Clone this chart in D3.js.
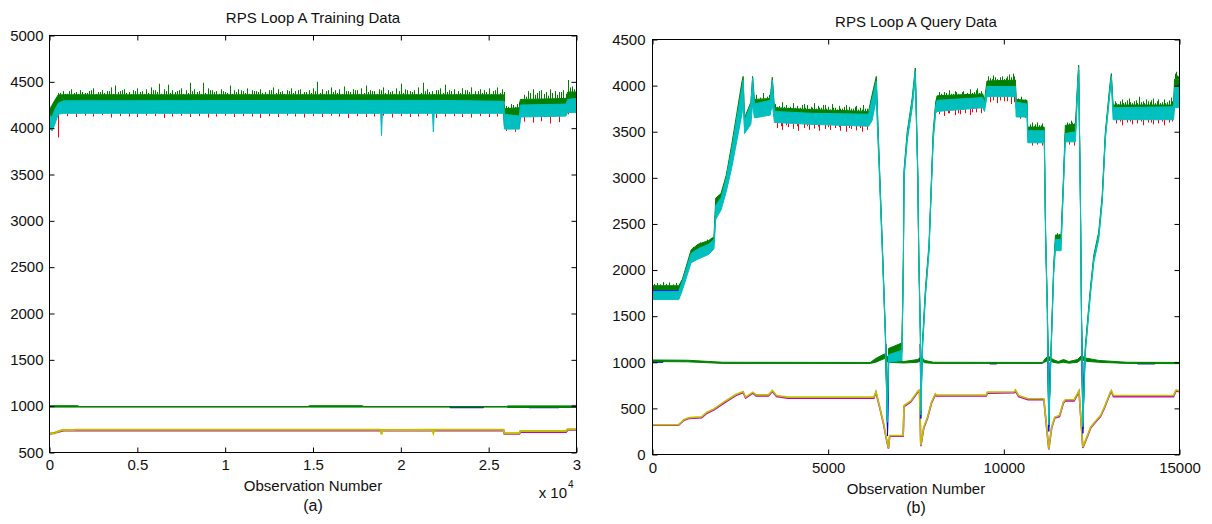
<!DOCTYPE html>
<html>
<head>
<meta charset="utf-8">
<script src="https://cdn.jsdelivr.net/npm/d3@7"></script>
<style>
  body { margin: 0; background: #fff; }
  text { font-family: "Liberation Sans", Arial, sans-serif; fill: #111; }
</style>
</head>
<body>
<svg id="chart" width="1212" height="524"></svg>
<script>
// ---------- (a) training data : rows are [observation, low, high] ----------
const trainXTicks = [0, 5000, 10000, 15000, 20000, 25000, 30000];
const trainYTicks = [500, 1000, 1500, 2000, 2500, 3000, 3500, 4000, 4500, 5000];

const trainBlue = [[0,4030,4130],[500,4175,4260],[25850,4175,4260],[25900,4010,4120],[26750,4010,4120],[26800,4145,4240],[29400,4150,4240],[29500,4185,4290],[30000,4185,4290]];
const trainGreen = [[0,4050,4200],[300,4120,4300],[500,4260,4360],[25850,4260,4360],[25900,4120,4210],[26750,4120,4220],[26800,4220,4310],[29400,4230,4320],[29500,4280,4390],[30000,4280,4390]];
const trainCyan = [[0,4000,4140],[150,3970,4120],[300,4040,4200],[500,4150,4270],[800,4160,4295],[18850,4160,4300],[18900,3920,4300],[18950,4160,4300],[21800,4160,4300],[21850,3960,4300],[21900,4160,4300],[25850,4160,4290],[25900,3990,4150],[26750,3990,4130],[26800,4120,4250],[29400,4130,4260],[29500,4170,4310],[30000,4170,4320]];

// green peaks, one every 250 observations (first set) and halfway between (second set)
const trainGreenTops = [4200,4290,4380,4400,4370,4420,4390,4410,4380,4400,4430,4390,4410,4400,4440,4460,4400,4420,4390,4410,
  4430,4400,4420,4440,4410,4480,4420,4470,4410,4400,4430,4410,4490,4420,4400,4490,4430,4410,4400,4420,
  4390,4460,4410,4420,4400,4430,4410,4400,4420,4390,4410,4440,4420,4400,4410,4430,4400,4420,4390,4410,
  4430,4500,4420,4400,4440,4410,4420,4450,4400,4420,4410,4430,4460,4410,4400,4420,4440,4410,4400,4430,
  4480,4420,4400,4410,4440,4490,4420,4400,4410,4430,4470,4410,4420,4400,4430,4410,4440,4400,4420,4410,
  4430,4400,4440,4420,4240,4260,4230,4280,4360,4400,4420,4380,4410,4390,4420,4400,4390,4410,4520,4450];
const trainGreenTops2 = [4230,4330,4380,4370,4400,4380,4370,4390,4380,4410,4370,4390,4380,4400,4370,4390,4410,4380,4370,4400,
  4390,4370,4380,4410,4390,4370,4400,4380,4390,4410,4370,4380,4400,4390,4370,4380,4410,4390,4370,4400,
  4380,4370,4390,4410,4380,4370,4400,4390,4380,4370,4410,4380,4390,4370,4400,4380,4410,4370,4390,4380,
  4400,4380,4370,4410,4390,4380,4370,4400,4390,4410,4370,4380,4390,4400,4370,4410,4380,4390,4370,4400,
  4380,4410,4390,4370,4380,4400,4390,4370,4410,4380,4390,4400,4370,4380,4410,4390,4370,4400,4380,4390,
  4370,4410,4380,4390,4230,4250,4260,4310,4340,4380,4360,4400,4370,4350,4380,4360,4390,4370,4440,4420];
// red lows, one every 500 observations
const trainRedBottoms = [3990,3900,4130,4120,4135,4125,4140,4115,4130,4125,4120,4135,4130,4110,4125,4135,4120,4130,4115,4125,
  4135,4120,4130,4125,4110,4130,4120,4135,4125,4115,4130,4120,4135,4125,4110,4130,4120,4125,4135,4115,
  4130,4120,4125,4135,4110,4125,4130,4120,4115,4130,4120,4125,3970,3960,4070,4060,4075,4050,4065,4150];

const trainMagenta = [[0,698],[800,738],[25850,738],[25900,702],[26750,702],[26800,722],[29400,722],[29500,745],[30000,745]];
const trainYellow = [[0,700],[150,712],[300,705],[500,730],[800,745],[1200,740],[1500,746],[18850,746],[18900,695],[18950,742],[21800,746],[21850,712],[21900,745],[25850,746],[25900,708],[26750,708],[26800,732],[29400,732],[29500,752],[30000,752]];
const trainBlueLow = [[22800,983,993],[24700,983,993],[24750,null,null],[27300,983,993],[29000,983,993]];
const trainGreenLow = [[0,990,1005],[1600,990,1005],[1700,990,996],[14700,990,996],[14800,990,1005],[17800,990,1005],[17900,990,996],[26000,990,996],[26100,986,1003],[30000,986,1003]];
const trainBlackLow = [[29750,996,1008],[30000,996,1008]];

// ---------- (b) query data ----------
const queryXTicks = [0, 5000, 10000, 15000];
const queryYTicks = [0, 500, 1000, 1500, 2000, 2500, 3000, 3500, 4000, 4500];

const queryBlue = [[0,1700,1795],[750,1700,1795],[760,null,null],[6640,1100,1200],[6690,200,260],[6720,900,1000],[6730,null,null],[7620,1100,1200],[7640,390,450],[7660,900,1000],[7670,null,null],[11240,1400,1500],[11280,250,300],[11320,900,1000],[11330,null,null],[12210,1400,1500],[12250,230,280],[12290,900,1000]];
const queryGreen = [[0,1790,1830],[750,1790,1830],[850,1850,1900],[1000,2030,2090],[1100,2150,2220],[1300,2200,2280],[1600,2250,2320],[1750,2300,2360],[1800,2650,2780],[1950,2720,2830],[2100,2920,3030],[2250,3200,3350],[2400,3520,3700],[2550,3850,4050],[2580,3950,4100],[2620,3550,3650],[2800,3700,3820],[2850,3950,4100],[2900,3780,3850],[3350,3800,3860],[3410,3950,4090],[3470,3700,3760],[4500,3680,3740],[6150,3660,3720],[6250,3750,3900],[6370,3950,4100],[6450,3150,3230],[6540,2240,2300],[6630,1280,1330],[6680,380,450],[6720,1050,1150],[7100,1100,1210],[7140,2040,2110],[7160,3030,3090],[7250,3430,3500],[7390,3780,3860],[7480,4120,4190],[7550,3030,3090],[7580,2110,2170],[7625,1280,1330],[7640,460,510],[7680,1130,1190],[7770,1750,1810],[7870,2220,2280],[7930,2830,2890],[7990,3440,3500],[8060,3750,3820],[8100,3820,3890],[9400,3850,3910],[9450,3780,3840],[9520,3980,4050],[10330,3980,4060],[10350,3760,3850],[10660,3760,3840],[10680,3480,3550],[11150,3480,3550],[11190,2330,2390],[11240,1530,1590],[11280,350,410],[11350,1180,1230],[11420,2000,2060],[11470,2300,2380],[11630,2300,2380],[11690,2870,2930],[11750,3480,3570],[12040,3500,3580],[12100,3980,4040],[12130,4170,4220],[12180,2730,2790],[12210,1510,1560],[12250,330,380],[12320,1130,1180],[12470,1780,1830],[12560,2110,2160],[12700,2360,2410],[12800,2760,2810],[12890,3450,3500],[13020,3950,4010],[13060,4080,4130],[13110,3720,3790],[14830,3720,3790],[14860,3950,4070],[15000,3950,4070]];
const queryCyan = [[0,1680,1770],[750,1680,1770],[850,1780,1880],[1000,1960,2060],[1100,2080,2180],[1300,2120,2230],[1600,2170,2280],[1750,2230,2330],[1800,2550,2700],[1950,2650,2780],[2100,2850,3000],[2250,3100,3300],[2400,3400,3650],[2550,3700,3980],[2580,3850,4060],[2620,3480,3620],[2800,3580,3800],[2850,3800,4080],[2900,3650,3800],[3350,3680,3840],[3410,3800,4060],[3470,3600,3720],[4500,3580,3700],[6150,3560,3690],[6250,3620,3850],[6370,3850,4050],[6450,3100,3200],[6540,2200,2280],[6630,1240,1300],[6680,350,420],[6720,1000,1080],[7100,1020,1130],[7140,2000,2080],[7160,3000,3060],[7250,3400,3470],[7390,3750,3830],[7480,4080,4160],[7550,3000,3070],[7580,2080,2150],[7625,1250,1310],[7640,430,480],[7680,1100,1160],[7770,1720,1780],[7870,2190,2250],[7930,2800,2860],[7990,3400,3470],[8060,3700,3780],[8100,3720,3840],[9400,3760,3870],[9450,3720,3800],[9520,3880,3990],[10330,3880,3990],[10350,3660,3820],[10660,3660,3800],[10680,3380,3510],[11150,3380,3510],[11190,2300,2360],[11240,1500,1560],[11280,320,380],[11350,1150,1200],[11420,1970,2030],[11470,2210,2330],[11630,2210,2330],[11690,2840,2900],[11750,3390,3480],[12040,3390,3500],[12100,3950,4010],[12130,4130,4200],[12180,2700,2760],[12210,1480,1530],[12250,300,350],[12320,1100,1150],[12470,1750,1800],[12560,2080,2130],[12700,2330,2380],[12800,2730,2780],[12890,3420,3470],[13020,3920,3980],[13060,4040,4100],[13110,3630,3760],[14830,3630,3770],[14860,3760,3980],[15000,3760,3990]];

const queryGreenTops = [[30,1850],[120,1860],[210,1845],[300,1870],[390,1850],[480,1865],[570,1845],[660,1860],
  [1150,2250],[1250,2270],[1350,2300],[1450,2290],[1550,2330],[1650,2340],
  [2950,3900],[3050,3870],[3150,3920],[3250,3880],[3330,3900],
  [3500,3800],[3550,3770],[3600,3780],[3650,3760],[3700,3820],[3750,3770],[3800,3790],[3850,3760],[3900,3770],[3950,3750],[4000,3810],[4050,3760],[4100,3780],[4150,3750],[4200,3760],[4250,3790],[4300,3800],[4350,3760],[4400,3790],[4450,3750],[4500,3770],[4550,3760],[4600,3810],[4650,3750],[4700,3780],[4750,3760],[4800,3760],[4850,3790],[4900,3790],[4950,3750],[5000,3770],[5050,3740],[5100,3800],[5150,3760],[5200,3760],[5250,3740],[5300,3780],[5350,3750],[5400,3750],[5450,3770],[5500,3790],[5550,3740],[5600,3770],[5650,3750],[5700,3750],[5750,3770],[5800,3780],[5850,3740],[5900,3760],[5950,3740],[6000,3790],[6050,3750],[6100,3750],
  [8150,3930],[8200,3910],[8250,3900],[8300,3930],[8350,3920],[8400,3900],[8450,3950],[8500,3910],[8550,3910],[8600,3940],[8650,3930],[8700,3910],[8750,3900],[8800,3930],[8850,3940],[8900,3910],[8950,3920],[9000,3900],[9050,3960],[9100,3920],[9150,3930],[9200,3950],[9250,3970],[9300,3920],[9350,3940],
  [9550,4100],[9600,4080],[9650,4070],[9700,4110],[9750,4090],[9800,4070],[9850,4060],[9900,4090],[9950,4100],[10000,4070],[10050,4080],[10100,4100],[10150,4120],[10200,4090],[10250,4130],[10300,4100],
  [10400,3860],[10500,3880],[10600,3850],
  [10750,3580],[10800,3600],[10850,3560],[10900,3580],[10950,3600],[11000,3570],[11050,3570],[11100,3590],
  [11500,2400],[11580,2390],[11800,3600],[11850,3590],[11900,3620],[11950,3600],[12000,3590],
  [13150,3830],[13200,3810],[13250,3800],[13300,3830],[13350,3850],[13400,3810],[13450,3820],[13500,3840],[13550,3860],[13600,3820],[13650,3810],[13700,3830],[13750,3840],[13800,3810],[13850,3880],[13900,3820],[13950,3830],[14000,3810],[14050,3850],[14100,3830],[14150,3820],[14200,3840],[14250,3860],[14300,3810],[14350,3830],[14400,3850],[14450,3810],[14500,3820],[14550,3850],[14600,3810],[14650,3820],[14700,3840],[14750,3870],[14800,3830],
  [14880,4130],[14900,4150],[14940,4110],[14960,4100]];
const queryRedBottoms = [[3550,3540],[3650,3560],[3700,3520],[3800,3570],[3850,3550],[4000,3530],[4100,3560],[4150,3510],[4300,3540],[4400,3560],[4450,3520],[4600,3535],[4700,3555],[4750,3510],[4900,3530],[5000,3550],[5050,3520],[5200,3540],[5300,3550],[5350,3510],[5500,3500],[5600,3540],[5650,3530],[5800,3515],[5900,3540],[5950,3500],[6100,3520],
  [8150,3690],[8300,3670],[8400,3700],[8450,3700],[8600,3680],[8700,3700],[8750,3690],[8900,3700],[9050,3680],[9100,3710],[9200,3710],[9350,3700],
  [9600,3820],[9700,3840],[9800,3810],[9900,3840],[10000,3830],[10100,3830],[10200,3800],[10300,3820],
  [10450,3640],[10600,3650],[10800,3350],[10950,3360],[11100,3350],[11850,3360],[11990,3350],
  [13200,3590],[13300,3610],[13350,3570],[13500,3600],[13600,3610],[13650,3580],[13800,3590],[13900,3610],[13950,3570],[14100,3600],[14200,3600],[14250,3580],[14400,3590],[14500,3610],[14550,3570],[14700,3600],[14800,3610]];

const queryMagenta = [[0,318],[740,318],[900,372],[1050,392],[1400,398],[1550,448],[1750,485],[2100,575],[2370,640],[2580,672],[2650,612],[2855,665],[2950,636],[3300,636],[3412,683],[3530,628],[3856,610],[6300,610],[6360,672],[6470,503],[6580,322],[6670,142],[6717,65],[6750,198],[7135,198],[7160,520],[7350,570],[7560,680],[7600,690],[7637,90],[7660,142],[7720,286],[7830,395],[7940,556],[8050,647],[8085,634],[9500,634],[9530,665],[10300,670],[10330,690],[10420,628],[10690,593],[11140,593],[11200,360],[11280,55],[11360,286],[11450,395],[11583,412],[11694,556],[11750,582],[12000,582],[12140,683],[12249,72],[12360,178],[12470,286],[12582,340],[12750,412],[12862,502],[13030,665],[13060,683],[13120,626],[14830,626],[14900,690],[15000,680]];
const queryYellow = [[0,322],[740,322],[900,380],[1050,400],[1400,410],[1550,459],[1750,495],[2100,586],[2370,651],[2580,683],[2650,622],[2855,676],[2950,647],[3300,647],[3412,694],[3530,640],[3856,622],[6300,622],[6360,683],[6470,513],[6580,332],[6670,152],[6717,72],[6750,206],[7135,206],[7160,531],[7350,580],[7560,690],[7600,700],[7637,98],[7660,152],[7720,296],[7830,405],[7940,567],[8050,658],[8085,645],[9500,645],[9530,676],[10300,680],[10330,700],[10420,640],[10690,604],[11140,604],[11200,369],[11280,62],[11360,296],[11450,405],[11583,423],[11694,567],[11750,593],[12000,593],[12140,694],[12249,80],[12360,188],[12470,296],[12582,350],[12750,423],[12862,513],[13030,676],[13060,694],[13120,640],[14830,640],[14900,700],[15000,690]];
const queryBlueLow = [[0,1000,1012],[300,1000,1012],[320,null,null],[9600,982,990],[9800,982,990],[9820,null,null],[13800,982,990],[14300,982,990]];
const queryGreenLow = [[0,1008,1025],[1000,1005,1022],[2000,988,1000],[6200,988,998],[6350,1000,1040],[6600,1040,1090],[6700,1000,1060],[7150,992,1008],[7550,1000,1030],[7650,1020,1060],[7750,995,1020],[8000,988,1000],[11100,988,998],[11200,1010,1050],[11300,1020,1060],[11400,1000,1030],[11550,990,1008],[11700,1000,1030],[11850,990,1008],[12100,1000,1030],[12200,1030,1070],[12350,1010,1045],[12700,1000,1020],[13500,988,1000],[15000,985,998]];

const col = { blue: '#0000ff', green: '#008000', red: '#ff0000', cyan: '#00bfbf', magenta: '#bf00bf', yellow: '#bfbf00', black: '#404040' };

const svg = d3.select('#chart');
svg.append('rect').attr('width', 1212).attr('height', 524).attr('fill', '#fff');

function drawPanel(p) {
  const x = d3.scaleLinear().domain(p.xDomain).range([p.left, p.right]);
  const y = d3.scaleLinear().domain(p.yDomain).range([p.bottom, p.top]);
  const g = svg.append('g');

  svg.append('defs').append('clipPath').attr('id', 'clip-' + p.id)
    .append('rect')
    .attr('x', p.left).attr('y', p.top)
    .attr('width', p.right - p.left).attr('height', p.bottom - p.top);
  const plot = g.append('g').attr('clip-path', `url(#clip-${p.id})`);

  p.layers.forEach(l => {
    if (l.type === 'band') {
      const area = d3.area()
        .defined(d => d[1] != null)
        .x(d => x(d[0])).y0(d => y(d[1])).y1(d => y(d[2]));
      plot.append('path').datum(l.rows)
        .attr('d', area)
        .attr('fill', l.color)
        .attr('stroke', l.color)
        .attr('stroke-width', 1)
        .attr('stroke-linejoin', 'round');
    } else if (l.type === 'line') {
      const line = d3.line().x(d => x(d[0])).y(d => y(d[1]));
      plot.append('path').datum(l.rows)
        .attr('d', line)
        .attr('fill', 'none')
        .attr('stroke', l.color)
        .attr('stroke-width', l.width || 1.5);
    } else if (l.type === 'spikes') {
      // spike from the edge of its band out to the read value
      const base = l.base.filter(d => d[1] != null);
      const edge = d3.scaleLinear()
        .domain(base.map(d => d[0]))
        .range(base.map(d => d[l.side]));
      plot.selectAll(null).data(l.rows).enter().append('line')
        .attr('x1', d => Math.round(x(d[0])) + 0.5)
        .attr('x2', d => Math.round(x(d[0])) + 0.5)
        .attr('y1', d => y(edge(d[0])))
        .attr('y2', d => y(d[1]))
        .attr('stroke', l.color)
        .attr('stroke-width', 1);
    }
  });

  // axes, ticks pointing inwards on all four sides
  const styleAxis = sel => {
    sel.select('.domain').remove();
    sel.selectAll('line').attr('stroke', '#000');
    sel.selectAll('text').attr('font-size', '15px').attr('fill', '#111')
      .attr('font-family', '"Liberation Sans", Arial, sans-serif');
  };
  g.append('g').attr('transform', `translate(0,${p.bottom})`)
    .call(d3.axisBottom(x).tickValues(p.xTicks).tickFormat(p.xFormat)
      .tickSizeInner(-5).tickSizeOuter(0).tickPadding(p.xPad))
    .call(styleAxis);
  g.append('g').attr('transform', `translate(0,${p.top})`)
    .call(d3.axisTop(x).tickValues(p.xTicks).tickFormat('')
      .tickSizeInner(-5).tickSizeOuter(0))
    .call(styleAxis);
  g.append('g').attr('transform', `translate(${p.left},0)`)
    .call(d3.axisLeft(y).tickValues(p.yTicks).tickFormat(d => d)
      .tickSizeInner(-5).tickSizeOuter(0).tickPadding(p.yPad))
    .call(styleAxis);
  g.append('g').attr('transform', `translate(${p.right},0)`)
    .call(d3.axisRight(y).tickValues(p.yTicks).tickFormat('')
      .tickSizeInner(-5).tickSizeOuter(0))
    .call(styleAxis);

  g.append('rect')
    .attr('x', p.left).attr('y', p.top)
    .attr('width', p.right - p.left).attr('height', p.bottom - p.top)
    .attr('fill', 'none').attr('stroke', '#000').attr('stroke-width', 1);

  const cx = (p.left + p.right) / 2;
  g.append('text').attr('x', cx).attr('y', p.titleY).attr('text-anchor', 'middle')
    .attr('font-size', '15px').text(p.title);
  g.append('text').attr('x', cx).attr('y', p.labelY).attr('text-anchor', 'middle')
    .attr('font-size', '15px').text('Observation Number');
  g.append('text').attr('x', cx).attr('y', p.subY).attr('text-anchor', 'middle')
    .attr('font-size', '16px').text(p.sub);
  return g;
}

const gA = drawPanel({
  id: 'a', left: 49.5, right: 576.5, top: 35.5, bottom: 452.5,
  xDomain: [0, 30000], yDomain: [500, 5000],
  xTicks: trainXTicks, yTicks: trainYTicks,
  xFormat: d => String(d / 10000), xPad: 7, yPad: 6,
  title: 'RPS Loop A Training Data', titleY: 23, labelY: 491, sub: '(a)', subY: 511,
  layers: [
    { type: 'band', rows: trainBlue, color: col.blue },
    { type: 'band', rows: trainGreen, color: col.green },
    { type: 'spikes', rows: trainGreenTops.map((v, i) => [i * 250, v]), base: trainGreen, side: 2, color: col.green },
    { type: 'spikes', rows: trainGreenTops2.map((v, i) => [125 + i * 250, v]), base: trainGreen, side: 2, color: col.green },
    { type: 'spikes', rows: trainRedBottoms.map((v, i) => [i * 500, v]), base: trainCyan, side: 1, color: col.red },
    { type: 'band', rows: trainCyan, color: col.cyan },
    { type: 'line', rows: trainMagenta, color: col.magenta, width: 2 },
    { type: 'line', rows: trainYellow, color: col.yellow, width: 2 },
    { type: 'band', rows: trainBlueLow, color: col.blue },
    { type: 'band', rows: trainGreenLow, color: col.green },
    { type: 'band', rows: trainBlackLow, color: col.black }
  ]
});
gA.append('text').attr('x', 567).attr('y', 498).attr('text-anchor', 'end')
  .attr('font-size', '15px').text('x 10');
gA.append('text').attr('x', 568).attr('y', 488)
  .attr('font-size', '10px').text('4');

drawPanel({
  id: 'b', left: 652.5, right: 1179.5, top: 39.5, bottom: 454.5,
  xDomain: [0, 15000], yDomain: [0, 4500],
  xTicks: queryXTicks, yTicks: queryYTicks,
  xFormat: d => String(d), xPad: 8, yPad: 7,
  title: 'RPS Loop A Query Data', titleY: 27, labelY: 494, sub: '(b)', subY: 513,
  layers: [
    { type: 'line', rows: queryMagenta, color: col.magenta, width: 1.6 },
    { type: 'line', rows: queryYellow, color: col.yellow, width: 1.6 },
    { type: 'band', rows: queryBlueLow, color: col.blue },
    { type: 'band', rows: queryGreenLow, color: col.green },
    { type: 'band', rows: queryBlue, color: col.blue },
    { type: 'band', rows: queryGreen, color: col.green },
    { type: 'spikes', rows: queryGreenTops, base: queryGreen, side: 2, color: col.green },
    { type: 'spikes', rows: queryRedBottoms, base: queryCyan, side: 1, color: col.red },
    { type: 'band', rows: queryCyan, color: col.cyan }
  ]
});
</script>
</body>
</html>
